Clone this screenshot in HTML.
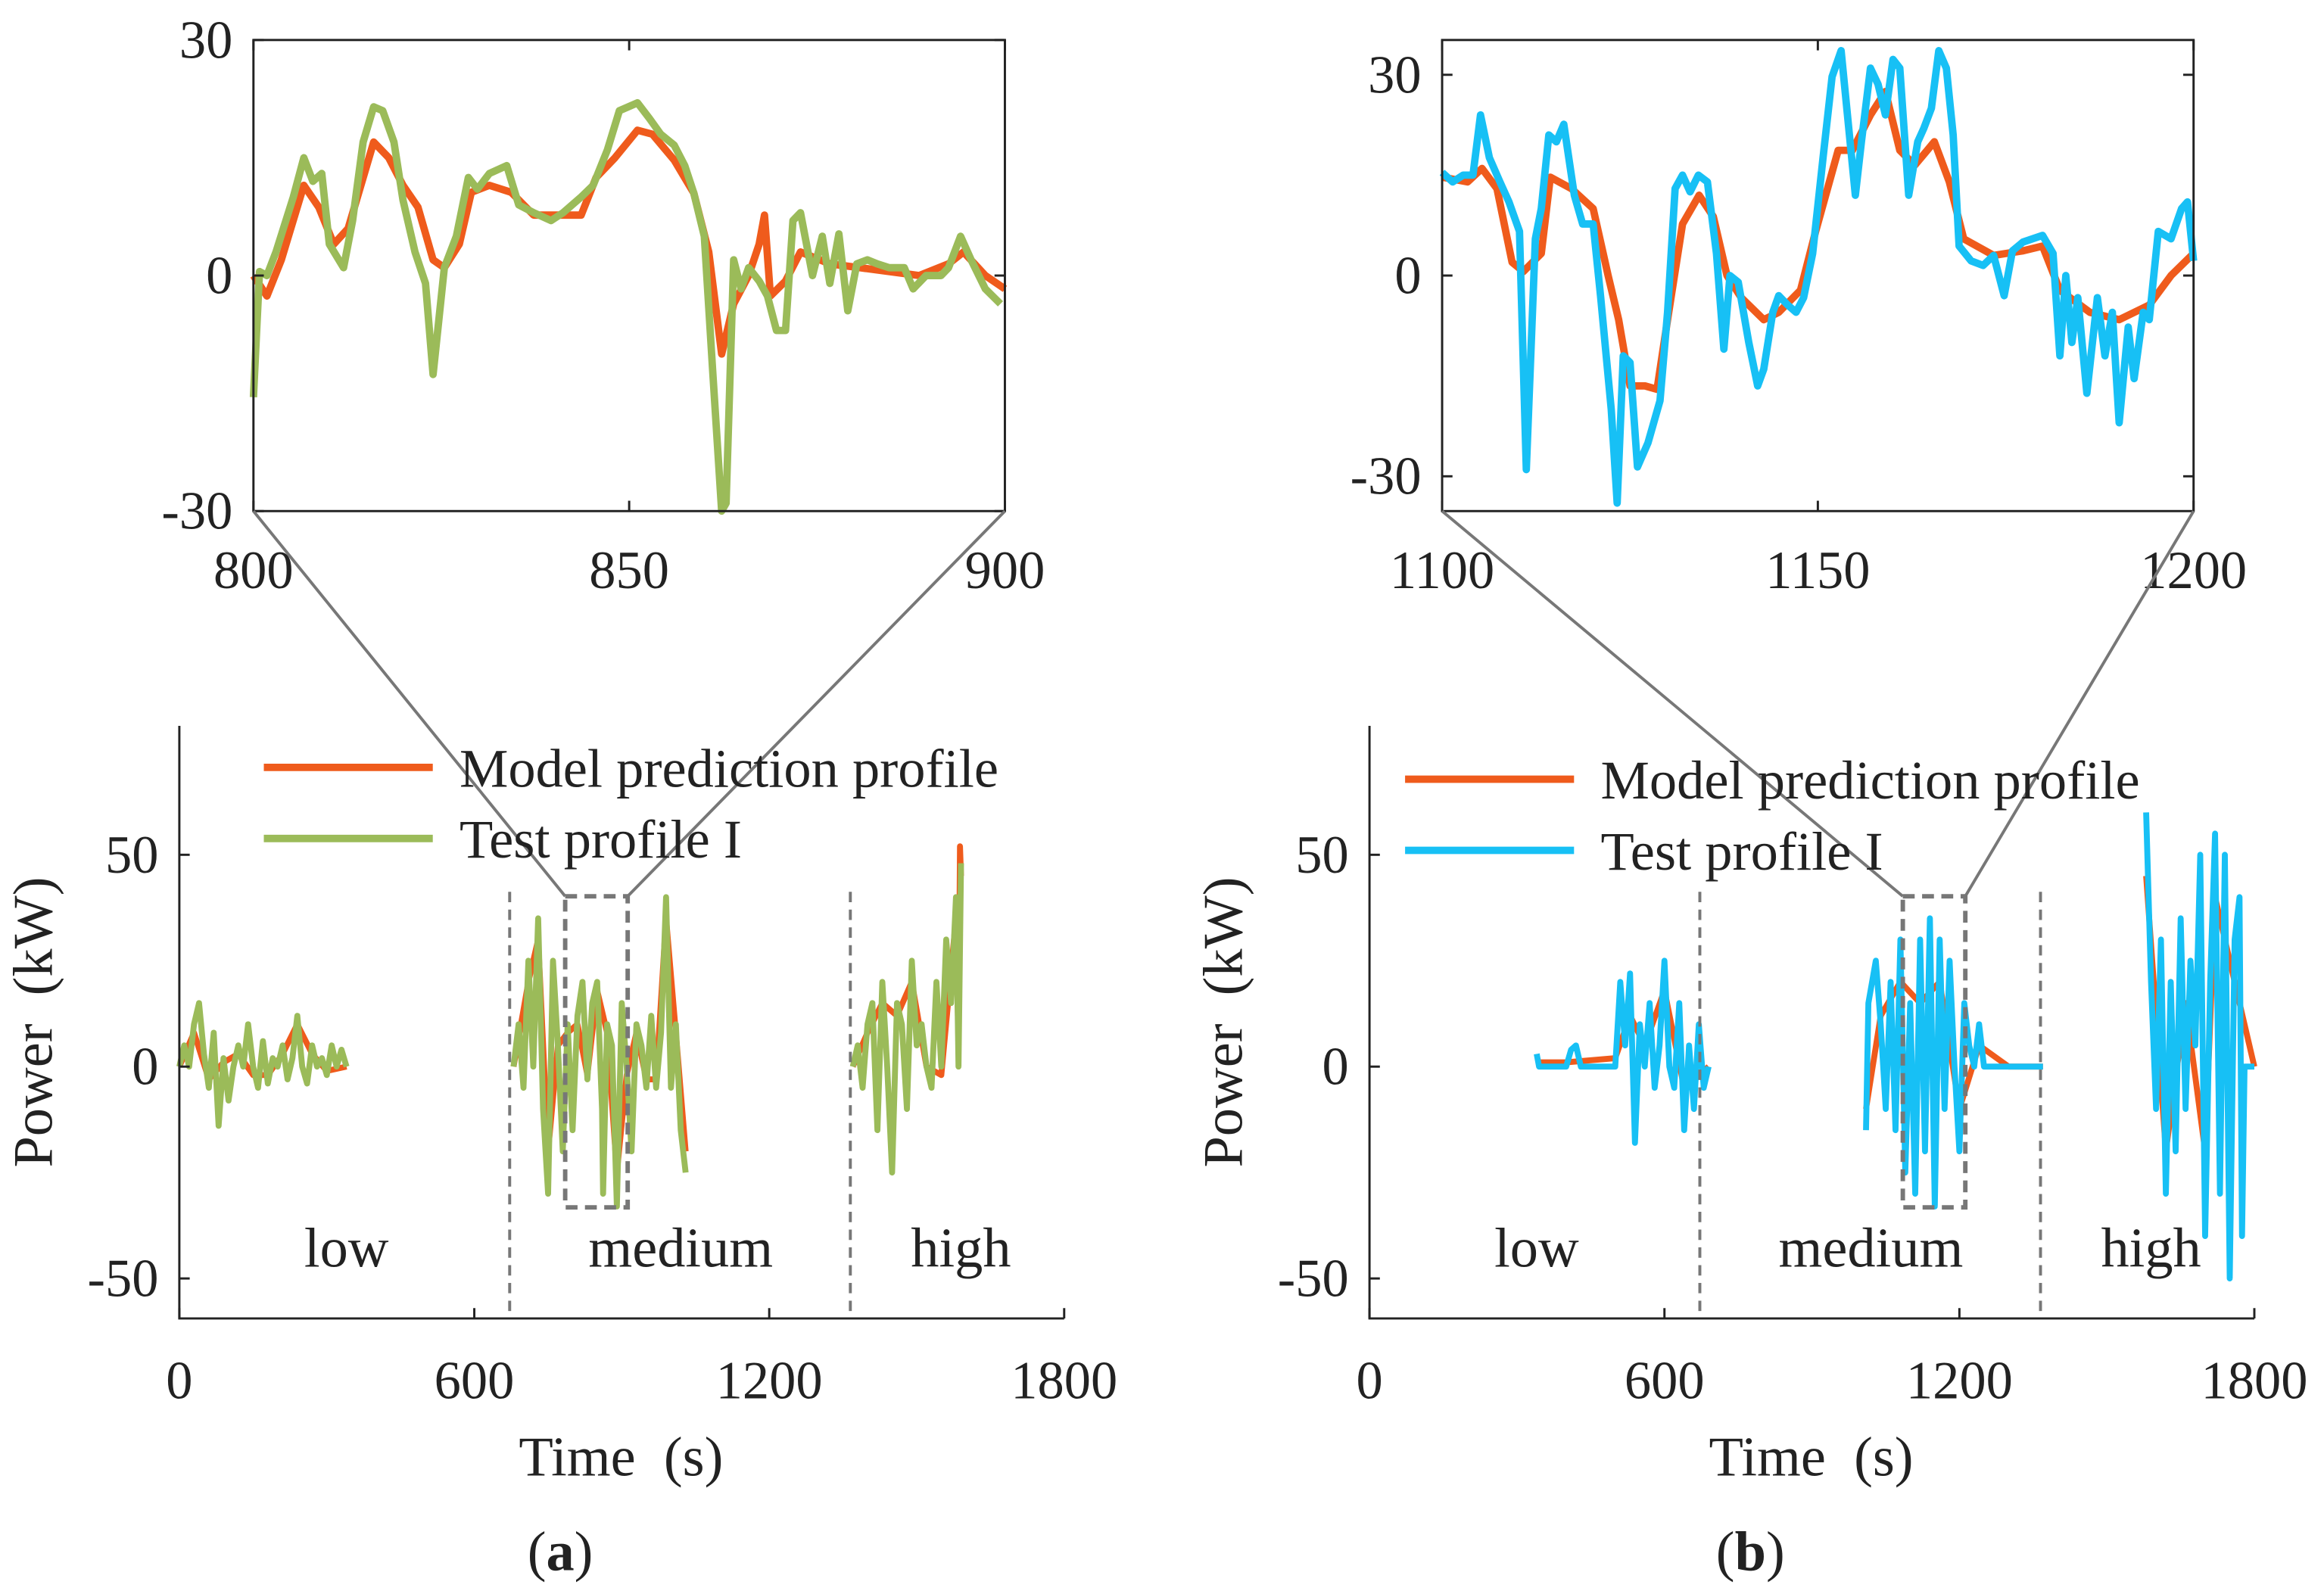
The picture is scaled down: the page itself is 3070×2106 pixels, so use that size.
<!DOCTYPE html>
<html><head><meta charset="utf-8"><style>
html,body{margin:0;padding:0;background:#fff;}
svg{display:block;font-family:"Liberation Serif",serif;}
text{white-space:pre;}
</style></head><body>
<svg id="fig" width="3070" height="2106" viewBox="0 0 1568 1076" preserveAspectRatio="none" xmlns="http://www.w3.org/2000/svg"></svg>
<script>
// ---- Data: panel (a) inset (800-900 s) ----
const aInsPredT=[800,801.8,803.7,806.7,808.7,810.7,812.6,816,818,819.9,821.9,823.9,825.4,827.4,829,831.4,834.3,837.3,841.2,843.6,845.6,848.1,851.1,853.1,856,858.6,860.6,862.3,863.9,865.9,867.3,868,868.8,870.8,872.8,876.7,880.7,884.6,888.6,892.5,894.5,897.4,900];
const aInsPredV=[0,-2.6,2,11.5,8.7,4,6,17,15,11.5,8.7,2,1,4,10.6,11.5,10.6,7.7,7.7,7.7,12.5,15,18.5,18,14.7,10.5,3,-10,-3.6,0,4,7.7,-2.6,-0.7,3,1.5,1,0.5,0,1.5,3,0,-1.7];
const aInsTestT=[800,800.8,801.8,803,805.3,806.7,807.9,809.1,810.1,812,813.2,814.6,816,817.2,818.7,819.9,821.5,822.9,823.9,825.4,827,828.6,829.8,831.4,833.7,835.3,837.3,839.6,841.2,843.6,845.2,847.1,848.7,851.1,852.7,854.2,856,857.4,858.6,860,861.1,862.3,862.9,863.9,864.9,865.9,867.3,868.4,869.6,870.8,871.8,872.8,874.4,875.7,876.7,877.9,879.1,880.3,881.7,883,884.6,886.6,887.8,889.5,891.5,892.5,894.1,895.5,897.4,899.4];
const aInsTestV=[-15.5,0.5,0,3,10,15,12,13,4,1,7,17,21.5,21,17,9.6,3,-1,-12.6,1,5,12.5,11,13,14,9,8,7,8,10,11.5,16,21,22,20,18,16.6,14,10.5,5,-12,-30,-29,2,-1.7,1,-0.7,-2.6,-7,-7,7,8,0,5,-1,5.3,-4.5,1.5,2,1.5,1,1,-1.7,0,0,1,5,2,-1.7,-3.6];
// ---- Data: panel (b) inset (1100-1200 s) ----
const bInsPredT=[1100,1103.4,1105.3,1107.3,1109.3,1110.8,1113.2,1114.4,1117.2,1120.1,1122.1,1123.5,1125,1127,1128.6,1130,1132,1134.2,1136.1,1137.9,1139.8,1142.8,1144.8,1147.7,1149.7,1152.7,1154.6,1157,1159,1160.9,1162.9,1165.5,1167.5,1169.4,1173.4,1177.3,1179.9,1182.2,1186.2,1190.1,1194.1,1197,1200];
const bInsPredV=[14.7,14,16,13,2,0.6,3.3,14.7,13,10,0,-6.6,-16.5,-16.5,-17,-6.6,7.7,12,8.8,0,-3.3,-6.6,-5.5,-2.2,6.6,18.7,18.7,24,27.5,18.7,16.5,20,14,5.5,3,3.7,4.4,-2.2,-5.5,-6.6,-4.4,0,3.3];
const bInsTestT=[1100,1101.4,1102.8,1104.1,1105.1,1106.3,1107.7,1108.9,1110.3,1111.2,1112.4,1113.2,1114.2,1115.2,1116.2,1117.6,1118.7,1120.1,1121.1,1122.5,1123.3,1124.1,1125,1126,1127.4,1129,1130,1131,1132,1133,1134.1,1135.3,1136.5,1137.5,1138.3,1139.4,1140.8,1142,1142.8,1144,1144.8,1146,1147.1,1148.1,1149.3,1150.7,1151.9,1153.1,1154.2,1155,1155.8,1157,1158,1159,1160,1160.9,1162.1,1163.3,1164.1,1165.1,1166.1,1167.1,1168,1168.8,1170.4,1172,1173.4,1174.8,1175.9,1177.3,1179.9,1181.3,1182.2,1183,1183.8,1184.6,1185.8,1187.2,1188.2,1189.2,1190.1,1191.3,1192.1,1193.3,1194.1,1195.3,1197,1198.4,1199.2,1200];
const bInsTestV=[15.4,14,15,15,24,17.6,14,11,6.6,-29,5.5,10,21,20,22.6,12,7.7,7.7,-3.3,-20,-34,-12,-13,-28.6,-25,-18.7,-5.5,13,15,12.5,15,14,3.3,-11,0,-1,-10,-16.5,-14,-5.5,-3,-4.4,-5.5,-3.3,3.3,17.6,29.7,33.6,21,12,20,31,28.6,24,32.3,31,12,20,22,25,33.6,31,21,4.4,2.2,1.5,3,-3,3.7,5,6,3.3,-12,0,-10,-3.3,-17.6,-3.3,-12,-5.5,-22,-7.7,-15.4,-5.5,-6.6,6.6,5.5,10,11,2.2];
// ---- Data: panel (a) full ----
const aTestT=[0,10,20,30,40,50,60,70,80,90,100,110,120,130,140,150,160,170,180,190,200,210,220,230,240,250,260,270,280,290,300,310,320,330,340,null,680,690,700,710,720,730,740,750,760,770,780,790,800,810,820,830,840,850,860,862,870,880,890,900,910,920,930,940,950,960,970,980,990,1000,1010,1020,1030,null,1370,1380,1390,1400,1410,1420,1430,1440,1450,1460,1470,1480,1490,1500,1510,1520,1530,1540,1550,1560,1570,1580,1585,1590];
const aTestV=[0,5,0,10,15,3,-5,8,-14,2,-8,0,5,0,10,0,-5,6,-4,2,0,5,-3,2,12,0,-4,5,0,2,-2,5,0,4,0,null,0,10,-5,25,0,35,-10,-30,25,5,-20,10,-15,12,20,-3,15,20,-10,-30,10,5,-33,15,0,-20,10,5,-5,12,-5,8,40,-5,10,-15,-25,null,0,5,-5,10,15,-15,20,0,-25,15,10,-10,25,5,10,0,-5,20,0,30,15,40,0,48];
const aPredT=[0,30,60,90,120,150,180,210,240,270,300,340,null,680,710,730,750,770,790,810,830,850,870,890,910,930,950,970,990,1010,1030,null,1370,1400,1430,1460,1490,1520,1550,1580,1585,1588,1590];
const aPredV=[0,8,-3,1,3,-2,-2,3,10,3,-1,0,null,0,20,30,-20,5,8,10,-2,18,8,-25,-2,8,-3,-3,35,8,-20,null,0,8,15,12,20,0,-2,35,5,52,45];
// ---- Data: panel (b) full ----
const bTestT=[340,345,350,400,410,420,430,500,510,520,530,540,550,560,570,580,590,600,610,620,630,640,650,660,670,680,690,null,1010,1015,1030,1040,1050,1060,1070,1080,1090,1100,1110,1120,1130,1140,1150,1160,1170,1180,1190,1200,1210,1220,1230,1240,1250,1260,1300,1370,null,1580,1590,1600,1610,1620,1630,1640,1650,1660,1670,1680,1690,1700,1710,1720,1730,1740,1750,1760,1770,1775,1780,1790,1800];
const bTestV=[3,0,0,0,4,5,0,0,20,5,22,-18,10,0,15,-5,5,25,0,-5,15,-15,5,-10,10,-5,0,null,-15,15,25,10,-10,20,-15,30,-25,15,-30,30,-20,35,-33,30,-10,25,0,-20,15,5,0,10,0,0,0,0,null,60,20,-10,30,-30,20,-20,35,-10,25,5,50,-40,20,55,-30,50,-50,30,40,-40,0,0,0];
const bPredT=[340,400,500,530,560,600,640,690,null,1010,1040,1080,1120,1160,1200,1240,1300,1370,null,1580,1620,1660,1700,1720,1760,1800];
const bPredV=[1,1,2,12,5,18,-5,0,null,-10,12,20,15,20,-10,5,0,0,null,45,-20,15,-20,40,20,0];

const NS="http://www.w3.org/2000/svg";
const svg=document.getElementById('fig');
function el(tag,attrs,parent){const e=document.createElementNS(NS,tag);for(const k in attrs)e.setAttribute(k,attrs[k]);(parent||svg).appendChild(e);return e;}
function txt(s,x,y,size,anchor,parent){const t=el('text',{x:x,y:y,'font-size':size,'text-anchor':anchor||'middle',fill:'#222'},parent);t.textContent=s;return t;}
function lin(x0,x1,d0,d1){return v=>x0+(v-d0)*(x1-x0)/(d1-d0);}
function pathFrom(T,V,sx,sy){let d='',pen=false;for(let i=0;i<T.length;i++){if(T[i]===null){pen=false;continue;}d+=(pen?'L':'M')+sx(T[i]).toFixed(1)+','+sy(V[i]).toFixed(1);pen=true;}return d;}
const ORANGE='#ef5b1c',GREEN='#9bbb59',BLUE='#17c0f5',GREY='#777';
const TK=36;

function inset(id,x0,x1,y0,y1,d0,d1,v0,v1,yt,xt,pT,pV,tT,tV,col){
  const g=el('g',{});
  
  
  const sx=lin(x0,x1,d0,d1), sy=lin(y1,y0,v0,v1);
  const p1=el('path',{d:pathFrom(pT,pV,sx,sy),fill:'none',stroke:ORANGE,'stroke-width':5,'stroke-linejoin':'round'},g);
  
  
  const p2=el('path',{d:pathFrom(tT,tV,sx,sy),fill:'none',stroke:col,'stroke-width':5,'stroke-linejoin':'round'},g);
  
  
  const box=el('rect',{x:x0,y:y0,width:x1-x0,height:y1-y0,fill:'none',stroke:'#222','stroke-width':1.5},g);
  
  
  yt.forEach(v=>{const y=sy(v);el('line',{x1:x0,x2:x0+7,y1:y,y2:y,stroke:'#222','stroke-width':1.5},g);el('line',{x1:x1,x2:x1-7,y1:y,y2:y,stroke:'#222','stroke-width':1.5},g);
    const t=txt(String(v),x0-14,y+12,TK,'end',g);});
  xt.forEach(v=>{const x=sx(v);el('line',{x1:x,x2:x,y1:y1,y2:y1-7,stroke:'#222','stroke-width':1.5},g);el('line',{x1:x,x2:x,y1:y0,y2:y0+7,stroke:'#222','stroke-width':1.5},g);
    const t=txt(String(v),x,y1+52,TK,'middle',g);});
}
inset('inset-a',171,678,27,345,800,900,-30,30,[30,0,-30],[800,850,900],aInsPredT,aInsPredV,aInsTestT,aInsTestV,GREEN);
inset('inset-b',973,1480,27,345,1100,1200,-35.2,35.2,[30,0,-30],[1100,1150,1200],bInsPredT,bInsPredV,bInsTestT,bInsTestV,BLUE);

function mainPlot(id,x0,pT,pV,tT,tV,col,zoomT0,zoomT1,inX0,inX1,legX,legY,lab){
  const g=el('g',{});
  
  
  const x1=x0+597, sx=lin(x0,x1,0,1800), sy=lin(720,577,0,50);
  const p1=el('path',{d:pathFrom(pT,pV,sx,sy),fill:'none',stroke:ORANGE,'stroke-width':4,'stroke-linejoin':'round'},g);
  
  
  const p2=el('path',{d:pathFrom(tT,tV,sx,sy),fill:'none',stroke:col,'stroke-width':4,'stroke-linejoin':'round'},g);
  
  
  const ax=el('path',{d:`M${x0},490L${x0},890L${x1},890`,fill:'none',stroke:'#222','stroke-width':1.5},g);
  
  
  [50,0,-50].forEach(v=>{const y=sy(v);el('line',{x1:x0,x2:x0+7,y1:y,y2:y,stroke:'#222','stroke-width':1.5},g);
    const t=txt(String(v),x0-14,y+12,TK,'end',g);});
  [0,600,1200,1800].forEach(v=>{const x=sx(v);el('line',{x1:x,x2:x,y1:890,y2:883,stroke:'#222','stroke-width':1.5},g);
    const t=txt(String(v),x,944,TK,'middle',g);});
  [672,1365].forEach(v=>{const x=sx(v);const l=el('line',{x1:x,x2:x,y1:602,y2:890,stroke:GREY,'stroke-width':2,'stroke-dasharray':'7,5'},g);});
  const zx0=sx(zoomT0)-5, zx1=sx(zoomT1)+4;
  const zr=el('rect',{x:zx0,y:605,width:zx1-zx0,height:210,fill:'none',stroke:GREY,'stroke-width':3,'stroke-dasharray':'8,5'},g);
  
  
  el('line',{x1:inX0,y1:345,x2:zx0,y2:605,stroke:GREY,'stroke-width':2},g);
  el('line',{x1:inX1,y1:345,x2:zx1,y2:605,stroke:GREY,'stroke-width':2},g);
  [['low',sx(340)],['medium',sx(1020)],['high',sx(1590)]].forEach(([s,x])=>{const t=txt(s,x,855,38,'middle',g);});
  const yl=txt('Power  (kW)',0,0,38,'middle',g);yl.setAttribute('transform',`translate(${x0-86},690) rotate(-90)`);
  
  const xl=txt('Time  (s)',x0+298,996,38,'middle',g);
  const sub=el('text',{x:x0+257,y:1060,'font-size':38,'text-anchor':'middle',fill:'#222'},g);
  sub.innerHTML='(<tspan font-weight="bold">'+lab+'</tspan>)';
  
  const leg=el('g',{},g);
  
  
  el('line',{x1:legX,x2:legX+114,y1:legY,y2:legY,stroke:ORANGE,'stroke-width':5},leg);
  el('line',{x1:legX,x2:legX+114,y1:legY+48,y2:legY+48,stroke:col,'stroke-width':5},leg);
  const t1=txt('Model prediction profile',legX+132,legY+13,37,'start',leg);
  const t2=txt('Test profile I',legX+132,legY+61,37,'start',leg);
}
mainPlot('panel-a',121,aPredT,aPredV,aTestT,aTestV,GREEN,800,900,171,678,178,518,'a');
mainPlot('panel-b',924,bPredT,bPredV,bTestT,bTestV,BLUE,1100,1200,973,1480,948,526,'b');
</script>
</body></html>
